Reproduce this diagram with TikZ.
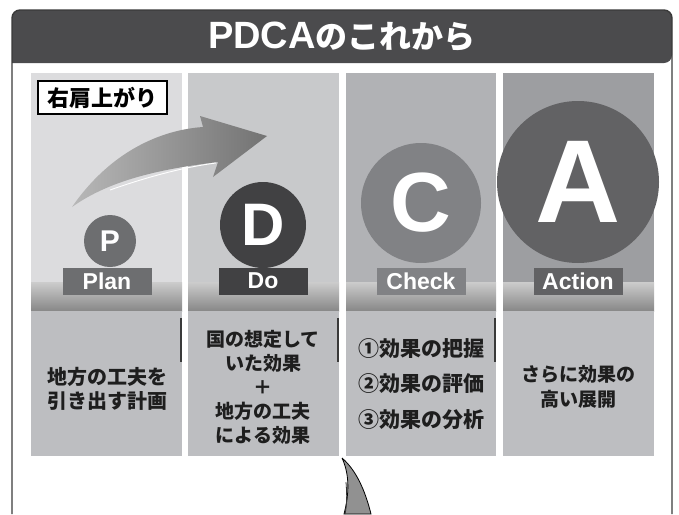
\documentclass[tikz,border=0pt]{standalone}
\usepackage{fontspec}
\setmainfont{Liberation Sans}
\newfontfamily\jpfont{Noto Sans CJK JP}
\usetikzlibrary{positioning}

\definecolor{titlegray}{HTML}{4B4B4D}
\definecolor{framegray}{HTML}{3A3A3A}
\definecolor{plancol}{HTML}{DCDCDE}
\definecolor{docol}{HTML}{C8C9CB}
\definecolor{checkcol}{HTML}{B1B2B5}
\definecolor{actcol}{HTML}{9D9EA1}
\definecolor{lowcol}{HTML}{BDBEC1}
\definecolor{planmark}{HTML}{6D6E70}
\definecolor{domark}{HTML}{414143}
\definecolor{checkmark}{HTML}{818285}
\definecolor{actmark}{HTML}{626264}
\definecolor{inkcol}{HTML}{1E1E1E}

\tikzset{
  letter/.style={circle, inner sep=0pt, text=white, font=\bfseries},
  tag/.style={text=white, font=\bfseries\fontsize{23}{23}\selectfont,
    minimum width=89pt, minimum height=27pt, inner sep=0pt},
  body/.style={align=center, text=inkcol},
}

\begin{document}
\begin{tikzpicture}[x=1pt, y=-1pt]
    \useasboundingbox (0,0) rectangle (679,514);

    % Title bar and frame
    \fill[titlegray] (12,63) [rounded corners=8] |- (342,10) -| (672,63) [sharp corners] -- cycle;
    \draw[framegray, line width=1.4, rounded corners=8] (12,514) |- (342,10) -| (672,514);
    \node[text=white] (title) at (342,37)
        {\bfseries\fontsize{38}{38}\selectfont PDCA\jpfont\fontsize{32}{32}\selectfont のこれから};

    % Four columns
    \fill[plancol]  (31,73)  rectangle (182,311);
    \fill[docol]    (188,73) rectangle (339,311);
    \fill[checkcol] (346,73) rectangle (496,311);
    \fill[actcol]   (503,73) rectangle (654,311);
    \foreach \xa/\xb in {31/182, 188/339, 346/496, 503/654} {
        \shade[top color=black!20, bottom color=black!47] (\xa,282) rectangle (\xb,311);
        \fill[lowcol] (\xa,311) rectangle (\xb,456);
    }
    \foreach \xr in {181, 338, 495}
        \draw[framegray, line width=1.3] (\xr,318) -- (\xr,362);

    % Rising arrow
    \shade[left color=black!28, right color=black!55]
        (72,207) .. controls (110,152) and (160,130) .. (203,127)
        -- (200,116) -- (267,136) -- (213,177) -- (218,162)
        .. controls (160,169) and (110,180) .. (72,207);
    \draw[white, line width=0.9] (110,190) .. controls (150,176) and (185,167) .. (216,163);

    \node[draw=black, line width=1.3, fill=white, minimum width=129pt, minimum height=33pt,
        inner sep=0pt, font=\jpfont\bfseries\fontsize{22}{22}\selectfont] (rise) at (102.5,97.5) {右肩上がり};

    % Letter circles
    \node[letter, fill=planmark,  minimum size=52pt,  font=\bfseries\fontsize{30}{30}\selectfont]  (pc) at (110,241) {P};
    \node[letter, fill=domark,    minimum size=86pt,  font=\bfseries\fontsize{60}{60}\selectfont]  (dc) at (263,225) {D};
    \node[letter, fill=checkmark, minimum size=120pt, font=\bfseries\fontsize{84}{84}\selectfont]  (cc) at (421,203) {C};
    \node[letter, fill=actmark,   minimum size=162pt, font=\bfseries\fontsize{118}{118}\selectfont] (ac) at (578,182) {A};

    % Step names
    \node[tag, fill=planmark]  (plan)   at (107,281) {Plan};
    \node[tag, fill=domark]    (do)     at (263,281) {Do};
    \node[tag, fill=checkmark] (check)  at (421,281) {Check};
    \node[tag, fill=actmark]   (action) at (578,281) {Action};

    % Texts underneath
    \node[body, font=\jpfont\bfseries\fontsize{20}{24}\selectfont] (plantext) at (107,389)
        {地方の工夫を\\引き出す計画};
    \node[body, font=\jpfont\bfseries\fontsize{19}{24}\selectfont] (dotext) at (263,387)
        {国の想定して\\いた効果\\＋\\地方の工夫\\による効果};
    \node[body, font=\jpfont\bfseries\fontsize{21}{35.5}\selectfont] (checktext) at (421,384)
        {①効果の把握\\②効果の評価\\③効果の分析};
    \node[body, font=\jpfont\bfseries\fontsize{19}{25}\selectfont] (actiontext) at (578,386.5)
        {さらに効果の\\高い展開};

    % Horn below
    \filldraw[fill=black!43, draw=black, line width=0.8]
        (342,458) .. controls (350,475) and (349,495) .. (344,514)
        -- (371,514) .. controls (365,490) and (356,470) .. (342,458);
    \draw[black!80, line width=0.8] (346,482) .. controls (347,495) and (347,505) .. (345,514);
\end{tikzpicture}
\end{document}
